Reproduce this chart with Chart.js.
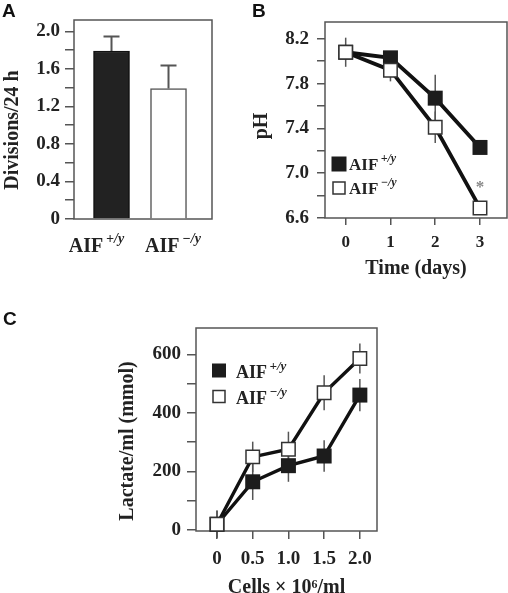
<!DOCTYPE html>
<html>
<head>
<meta charset="utf-8">
<script src="https://cdn.jsdelivr.net/npm/chart.js@4.4.1/dist/chart.umd.min.js"></script>
<style>
  html, body { margin: 0; padding: 0; background: #fff; overflow: hidden; }
  body { width: 508px; height: 593px; position: relative; }
  canvas { position: absolute; }
  .tag { position: absolute; font: bold 19px "Liberation Sans", Arial, sans-serif; color: #111; line-height: 20px; }
</style>
</head>
<body>
<canvas id="chartA" width="250" height="290" style="left:0;top:0"></canvas>
<canvas id="chartB" width="258" height="290" style="left:250px;top:0"></canvas>
<canvas id="chartC" width="508" height="300" style="left:0;top:300px"></canvas>
<div class="tag" style="left:2px;top:1px">A</div>
<div class="tag" style="left:252px;top:1px">B</div>
<div class="tag" style="left:3px;top:309px">C</div>

<script>
// genotypes
const genoBase = 'AIF';
const genoSup = ['+/y', '\u2212/y'];

// A: divisions per 24 h
const divisions = [1.79, 1.39];
const divisionsErr = [0.155, 0.245];

// B: medium pH over time
const days = [0, 1, 2, 3];
const phWT = [8.08, 8.03, 7.67, 7.23];
const phKO = [8.08, 7.92, 7.41, 6.69];
const phWTErr = [0.05, 0.03, 0.21, 0.03];
const phKOErr = [0.13, 0.10, 0.14, 0.03];
const phStarDay = 3;
const phStarLevel = 6.9;

// C: lactate vs cell density
const cells = [0, 0.5, 1.0, 1.5, 2.0];
const lactWT = [20, 165, 220, 253, 461];
const lactKO = [20, 250, 276, 469, 586];
const lactWTErr = [45, 62, 55, 54, 55];
const lactKOErr = [48, 52, 60, 60, 51];

// tick labels
const aYTicks = [0, 0.4, 0.8, 1.2, 1.6, 2.0];
const aYLabels = ['0', '0.4', '0.8', '1.2', '1.6', '2.0'];
const aYMinor = [0.2, 0.6, 1.0, 1.4, 1.8];
const bYTicks = [6.6, 7.0, 7.4, 7.8, 8.2];
const bYLabels = ['6.6', '7.0', '7.4', '7.8', '8.2'];
const bYMinor = [6.8, 7.2, 7.6, 8.0];
const bXLabels = ['0', '1', '2', '3'];
const cYTicks = [0, 200, 400, 600];
const cYLabels = ['0', '200', '400', '600'];
const cYMinor = [100, 300, 500];
const cXLabels = ['0', '0.5', '1.0', '1.5', '2.0'];

const serif = '"Liberation Serif", "Times New Roman", serif';
Chart.defaults.font.family = serif;
Chart.defaults.font.weight = 'bold';
Chart.defaults.font.size = 18;
Chart.defaults.color = '#222';

function drawSup(ctx, base, sup, x, y, size, supSize, align) {
  ctx.save();
  ctx.fillStyle = '#222';
  ctx.textBaseline = 'alphabetic';
  ctx.textAlign = 'left';
  ctx.font = 'bold ' + size + 'px ' + serif;
  const w1 = ctx.measureText(base).width;
  ctx.font = 'italic bold ' + supSize + 'px ' + serif;
  const w2 = ctx.measureText(sup).width;
  const gap = size * 0.14;
  const x0 = align === 'center' ? x - (w1 + gap + w2) / 2 : x;
  ctx.font = 'bold ' + size + 'px ' + serif;
  ctx.fillText(base, x0, y);
  ctx.font = 'italic bold ' + supSize + 'px ' + serif;
  ctx.fillText(sup, x0 + w1 + gap, y - size * 0.45);
  ctx.restore();
}

function withMinor(major, minor) {
  return (scale) => {
    scale.ticks = major.concat(minor).sort((a, b) => a - b).map(v => ({ value: v }));
  };
}
function labelOf(values, labels) {
  return (v) => {
    const i = values.indexOf(v);
    return i >= 0 ? labels[i] : '';
  };
}

const frame = {
  id: 'frame',
  beforeDatasetsDraw(chart) {
    const { ctx, chartArea: a } = chart;
    ctx.save();
    ctx.strokeStyle = '#555';
    ctx.lineWidth = 1.5;
    ctx.strokeRect(a.left, a.top, a.right - a.left, a.bottom - a.top);
    ctx.restore();
  }
};

// y axis title, drawn rotated beside the axis
const sideTitle = {
  id: 'sideTitle',
  afterDraw(chart, args, opts) {
    const { ctx, chartArea: a } = chart;
    ctx.save();
    ctx.translate(opts.x, (a.top + a.bottom) / 2 + opts.dy);
    ctx.rotate(-Math.PI / 2);
    ctx.fillStyle = '#222';
    ctx.font = 'bold 20px ' + serif;
    ctx.textAlign = 'center';
    ctx.textBaseline = 'middle';
    ctx.fillText(opts.text, 0, 0);
    ctx.restore();
  }
};

const errorBars = {
  id: 'errorBars',
  beforeDatasetsDraw(chart, args, opts) {
    const { ctx } = chart;
    const y = chart.scales.y;
    ctx.save();
    ctx.strokeStyle = opts.color;
    ctx.lineWidth = opts.width;
    chart.data.datasets.forEach((ds, di) => {
      if (!ds.errors) return;
      chart.getDatasetMeta(di).data.forEach((el, i) => {
        const v = ds.data[i].y;
        const top = y.getPixelForValue(v + ds.errors[i]);
        const bot = y.getPixelForValue(opts.upOnly ? v : v - ds.errors[i]);
        ctx.beginPath();
        ctx.moveTo(el.x, bot);
        ctx.lineTo(el.x, top);
        if (opts.cap) {
          ctx.moveTo(el.x - opts.cap / 2, top);
          ctx.lineTo(el.x + opts.cap / 2, top);
        }
        ctx.stroke();
      });
    });
    ctx.restore();
  }
};

const supLegend = {
  id: 'supLegend',
  afterDatasetsDraw(chart, args, opts) {
    if (!opts.display) return;
    const { ctx, chartArea: a } = chart;
    chart.data.datasets.forEach((ds, i) => {
      const cx = a.left + opts.x;
      const cy = a.top + opts.y + i * opts.row;
      const s = opts.boxes[i];
      ctx.save();
      ctx.fillStyle = ds.pointBackgroundColor;
      ctx.fillRect(cx - s / 2, cy - s / 2, s, s);
      if (ds.pointBorderWidth) {
        ctx.strokeStyle = ds.pointBorderColor;
        ctx.lineWidth = ds.pointBorderWidth;
        ctx.strokeRect(cx - s / 2, cy - s / 2, s, s);
      }
      ctx.restore();
      drawSup(ctx, genoBase, genoSup[i], cx + opts.textDx, cy + opts.textDy, opts.size, opts.supSize, 'left');
    });
  }
};

const common = {
  responsive: false,
  animation: false,
  events: []
};

function axisY(width, major, minor, labels, tickLen, pad) {
  return {
    afterFit: (s) => { s.width = width; },
    afterBuildTicks: withMinor(major, minor),
    ticks: { autoSkip: false, padding: pad, font: { size: 19 }, callback: labelOf(major, labels) },
    grid: { drawOnChartArea: false, tickLength: tickLen, color: '#555', lineWidth: 1.5 },
    border: { display: false }
  };
}

// ---------- A ----------
new Chart(document.getElementById('chartA'), {
  type: 'bar',
  data: {
    datasets: [{
      data: divisions.map((v, i) => ({ x: i + 1, y: v })),
      errors: divisionsErr,
      backgroundColor: ['#222', '#fff'],
      borderColor: ['#111', '#555'],
      borderWidth: 1.5,
      barThickness: 36
    }]
  },
  options: Object.assign({}, common, {
    layout: { autoPadding: false, padding: { top: 20, right: 38 } },
    scales: {
      x: {
        type: 'linear', offset: false, min: 0.342, max: 2.763,
        afterFit: (s) => { s.height = 71; },
        ticks: { display: false },
        grid: { display: false },
        border: { display: false }
      },
      y: Object.assign(axisY(74, aYTicks, aYMinor, aYLabels, 9, 5), { min: 0, max: 2.12 })
    },
    plugins: {
      legend: { display: false },
      tooltip: { enabled: false },
      errorBars: { color: '#555', width: 2, cap: 16, upOnly: true },
      catLabels: { dy: 32.5, shift: [-15, 4.5] },
      sideTitle: { text: 'Divisions/24 h', x: 13, dy: 10.5 }
    }
  }),
  plugins: [frame, errorBars, sideTitle, {
    id: 'catLabels',
    afterDraw(chart, args, opts) {
      const x = chart.scales.x;
      genoSup.forEach((sup, i) => {
        drawSup(chart.ctx, genoBase, sup, x.getPixelForValue(i + 1) + opts.shift[i],
          chart.chartArea.bottom + opts.dy, 20, 14, 'center');
      });
    }
  }]
});

// ---------- B ----------
new Chart(document.getElementById('chartB'), {
  type: 'line',
  data: {
    datasets: [{
      label: genoBase + genoSup[0],
      data: days.map((d, i) => ({ x: d, y: phWT[i] })),
      errors: phWTErr,
      borderColor: '#111', borderWidth: 3.8,
      pointStyle: 'rect', pointRadius: 10.6,
      pointBackgroundColor: '#1c1c1c', pointBorderColor: '#1c1c1c', pointBorderWidth: 0,
      order: 1, clip: false
    }, {
      label: genoBase + genoSup[1],
      data: days.map((d, i) => ({ x: d, y: phKO[i] })),
      errors: phKOErr,
      borderColor: '#111', borderWidth: 3.8,
      pointStyle: 'rect', pointRadius: 9.5,
      pointBackgroundColor: '#fff', pointBorderColor: '#333', pointBorderWidth: 1.5,
      order: 0, clip: false
    }]
  },
  options: Object.assign({}, common, {
    layout: { autoPadding: false, padding: { top: 22, right: 1 } },
    scales: {
      x: {
        type: 'linear', min: -0.462, max: 3.603,
        afterFit: (s) => { s.height = 72; },
        afterBuildTicks: (s) => { s.ticks = days.map(v => ({ value: v })); },
        ticks: { autoSkip: false, padding: 7, font: { size: 17 }, callback: labelOf(days, bXLabels) },
        grid: { drawOnChartArea: false, tickLength: 7, color: '#555', lineWidth: 1.5 },
        border: { display: false },
        title: { display: true, text: 'Time (days)', font: { size: 20 }, padding: { bottom: 9 } }
      },
      y: Object.assign(axisY(75, bYTicks, bYMinor, bYLabels, 8, 8), { min: 6.6, max: 8.35 })
    },
    plugins: {
      legend: { display: false },
      tooltip: { enabled: false },
      errorBars: { color: '#555', width: 1.5 },
      sideTitle: { text: 'pH', x: 11.5, dy: 6 },
      supLegend: { display: true, x: 14, y: 142, row: 24, boxes: [15, 12], textDx: 10, textDy: 5.5, size: 17, supSize: 12 }
    }
  }),
  plugins: [frame, errorBars, supLegend, sideTitle, {
    id: 'star',
    afterDatasetsDraw(chart) {
      const { ctx, scales } = chart;
      ctx.save();
      ctx.fillStyle = '#888';
      ctx.font = 'bold 17px ' + serif;
      ctx.textAlign = 'center';
      ctx.textBaseline = 'middle';
      ctx.fillText('*', scales.x.getPixelForValue(phStarDay), scales.y.getPixelForValue(phStarLevel) + 3);
      ctx.restore();
    }
  }]
});

// ---------- C ----------
new Chart(document.getElementById('chartC'), {
  type: 'line',
  data: {
    datasets: [{
      label: genoBase + genoSup[0],
      data: cells.map((c, i) => ({ x: c, y: lactWT[i] })),
      errors: lactWTErr,
      borderColor: '#111', borderWidth: 3.4,
      pointStyle: 'rect', pointRadius: 10.6,
      pointBackgroundColor: '#1c1c1c', pointBorderColor: '#1c1c1c', pointBorderWidth: 0,
      order: 1, clip: false
    }, {
      label: genoBase + genoSup[1],
      data: cells.map((c, i) => ({ x: c, y: lactKO[i] })),
      errors: lactKOErr,
      borderColor: '#111', borderWidth: 3.4,
      pointStyle: 'rect', pointRadius: 9.5,
      pointBackgroundColor: '#fff', pointBorderColor: '#333', pointBorderWidth: 1.5,
      order: 0, clip: false
    }]
  },
  options: Object.assign({}, common, {
    layout: { autoPadding: false, padding: { top: 28, right: 131 } },
    scales: {
      x: {
        type: 'linear', min: -0.294, max: 2.24,
        afterFit: (s) => { s.height = 69; },
        afterBuildTicks: (s) => { s.ticks = cells.map(v => ({ value: v })); },
        ticks: { autoSkip: false, padding: 9, font: { size: 19 }, callback: labelOf(cells, cXLabels) },
        grid: { drawOnChartArea: false, tickLength: 8, color: '#555', lineWidth: 1.5 },
        border: { display: false },
        title: { display: true, text: 'Cells \u00d7 10\u2076/ml', font: { size: 20 }, padding: { bottom: 0 } }
      },
      y: Object.assign(axisY(196, cYTicks, cYMinor, cYLabels, 9, 6), { min: -3, max: 690 })
    },
    plugins: {
      legend: { display: false },
      tooltip: { enabled: false },
      errorBars: { color: '#555', width: 1.5 },
      sideTitle: { text: 'Lactate/ml (mmol)', x: 127.5, dy: 11.5 },
      supLegend: { display: true, x: 23, y: 42.5, row: 26, boxes: [14, 12], textDx: 17, textDy: 7.5, size: 18, supSize: 13 }
    }
  }),
  plugins: [frame, errorBars, supLegend, sideTitle]
});
</script>
</body>
</html>
